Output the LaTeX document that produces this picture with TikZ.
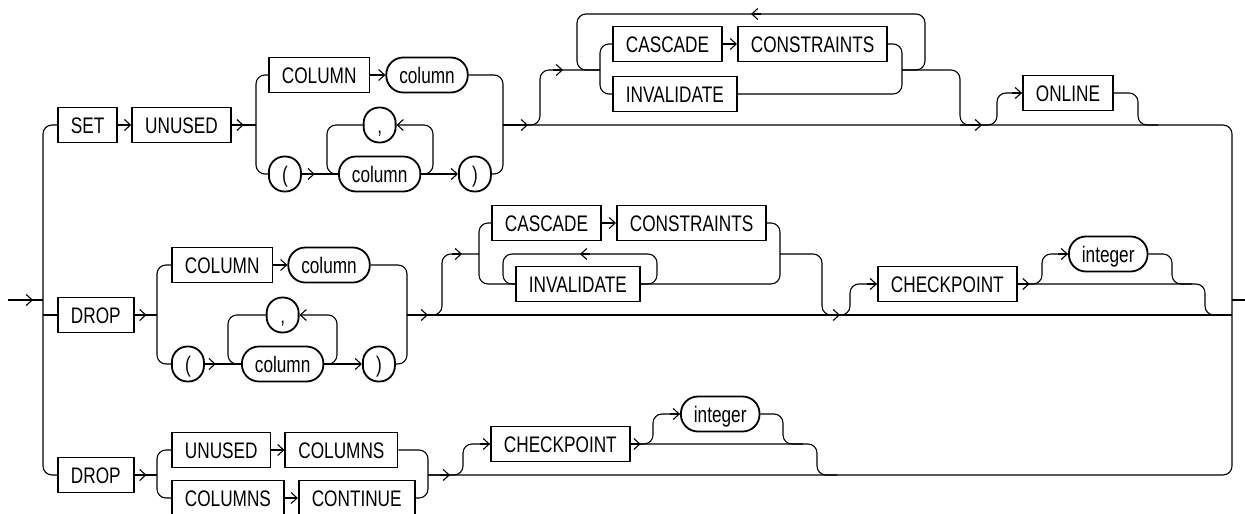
\documentclass[tikz,border=0pt]{standalone}
\usepackage{fontspec}
\setmainfont{Liberation Sans}[FakeStretch=0.765]
\usetikzlibrary{arrows.meta, positioning, calc}
\tikzset{
  rail/.style={line width=1.1pt,rounded corners=9pt},
  line/.style={rail,-{Straight Barb[length=6pt,width=11pt]}},
  kw/.style={rectangle,draw,line width=1.8pt,minimum height=35pt,inner xsep=13pt,inner ysep=0pt,text height=16pt,text depth=0pt,font=\fontsize{22.5}{26}\selectfont},
  var/.style={kw,rounded corners=17pt},
  sym/.style={kw,rounded corners=15.5pt,minimum width=32pt,inner xsep=0pt}
}
\begin{document}
\begin{tikzpicture}[x=1pt,y=-1pt,node distance=14pt]
\clip (0,0) rectangle (1245,514);
\coordinate (entry) at (8,300);
\coordinate (trunkL) at (43,300);
\coordinate (trunkR) at (1232,300);
\coordinate (exit) at (1245,300);

\node[kw,anchor=west] (set) at (57,125) {SET};
\node[kw,right=13pt of set] (unused) {UNUSED};
\node[kw,anchor=west] (colkw) at (268,75) {COLUMN};
\node[var,right=15pt of colkw] (colvar) {column};
\node[sym,anchor=west] (lpar) at (268,174) {(};
\node[var,anchor=west] (colvarb) at (338,174) {column};
\node[sym] (comma) at (colvarb |- set) {,};
\node[sym,anchor=west] (rpar) at (458,174) {)};
\node[kw,anchor=west] (casc) at (612,44) {CASCADE};
\node[kw,right=of casc] (cons) {CONSTRAINTS};
\node[kw,anchor=west] (inv) at (612,94) {INVALIDATE};
\node[kw,anchor=west] (online) at (1022,93) {ONLINE};
\coordinate (ja) at (256,125);
\coordinate (jb) at (503,125);
\coordinate (la) at (327,174);
\coordinate (lb) at (433,174);
\coordinate (jc) at (540,125);
\coordinate (jd) at (600,70);
\coordinate (je) at (902,70);
\coordinate (ll) at (577,14);
\coordinate (lr) at (925,14);
\coordinate (jf) at (960,125);
\coordinate (jg) at (997,125);
\coordinate (jh) at (1138,125);

\node[kw,anchor=west] (drop) at (57,315) {DROP};
\node[kw,anchor=west] (colkwb) at (171,265) {COLUMN};
\node[var,right=of colkwb] (colvarc) {column};
\node[sym,anchor=west] (lparb) at (171,364) {(};
\node[var,anchor=west] (colvard) at (241,364) {column};
\node[sym] (commab) at (colvard |- drop) {,};
\node[sym,anchor=west] (rparb) at (362,364) {)};
\node[kw,anchor=west] (cascb) at (491,223) {CASCADE};
\node[kw,right=of cascb] (consb) {CONSTRAINTS};
\node[kw,anchor=west] (invb) at (515,284) {INVALIDATE};
\node[kw,anchor=west] (ckpt) at (877,284) {CHECKPOINT};
\node[var,anchor=west] (intg) at (1068,254) {integer};
\coordinate (jk) at (157,315);
\coordinate (jl) at (407,315);
\coordinate (lc) at (228,364);
\coordinate (ld) at (337,364);
\coordinate (jm) at (442,315);
\coordinate (jn) at (479,254);
\coordinate (lle) at (503,254);
\coordinate (lre) at (657,254);
\coordinate (jo) at (780,254);
\coordinate (jp) at (822,315);
\coordinate (jq) at (850,315);
\coordinate (jr) at (1042,284);
\coordinate (js) at (1172,284);
\coordinate (jt) at (1205,315);

\node[kw,anchor=west] (dropb) at (57,475) {DROP};
\node[kw,anchor=west] (unusedb) at (171,450) {UNUSED};
\node[kw,right=13pt of unusedb] (colsa) {COLUMNS};
\node[kw,anchor=west] (colsb) at (171,498) {COLUMNS};
\node[kw,right=13pt of colsb] (cont) {CONTINUE};
\node[kw,anchor=west] (ckptb) at (490,444) {CHECKPOINT};
\node[var,anchor=west] (intgb) at (680,414) {integer};
\coordinate (ju) at (157,475);
\coordinate (jv) at (428,475);
\coordinate (jw) at (463,475);
\coordinate (jx) at (653,444);
\coordinate (jy) at (783,444);
\coordinate (jz) at (817,475);

\draw[rail] (entry) -- (trunkL);
\draw[line] (entry) -- ++(25,0);
\draw[rail] (set) -| (trunkL) |- (dropb);
\draw[rail] (trunkL |- drop) -- (drop);
\draw[rail] ($(jb)+(9,0)$) -| (trunkR) |- (jv);
\draw[rail] (trunkR) -- (exit);

\draw[line] (set) -- (unused);
\draw[rail] (unused) -- (ja);
\draw[line] (unused.east) -- ++(12,0);
\draw[rail] (colkw.west) -| (ja) |- (lpar.west);
\draw[line] (colkw) -- (colvar);
\draw[rail] (colvar.east) -| (jb) |- (rpar.east);
\draw[rail] (lpar) -- (colvarb);
\draw[line] (lpar.east) -- ++(13,0);
\draw[line] (colvarb.east) -- (lb) |- (comma.east);
\draw[rail] (comma.west) -| (la) -- (colvarb.west);
\draw[line] (colvarb) -- (rpar);
\draw[line] (jb) -- ++(25,0);
\draw[rail] (jb) -- (jc) |- (jd);
\draw[line] ($(jc |- jd)+(13,0)$) -- ++(10,0);
\draw[rail] (casc.west) -| (jd) |- (inv.west);
\draw[line] (casc) -- (cons);
\draw[rail] (cons.east) -| (je) |- (inv.east);
\draw[rail] (je) -| (lr) -- (ll) |- (jd);
\draw[line] ($(ll)!0.5!(lr)+(10,0)$) -- ($(ll)!0.5!(lr)$);
\draw[rail] (je) -| (jf) -- ++(20,0);
\draw[line] ($(jf)+(12,0)$) -- ++(10,0);
\draw[rail] (jf) -- (jg) |- (online.west);
\draw[line] ($(online.west)+(-10,0)$) -- (online.west);
\draw[rail] (online.east) -| (jh) -- ++(20,0);

\draw[rail] (drop) -- (jk);
\draw[line] (drop.east) -- ++(12,0);
\draw[rail] (colkwb.west) -| (jk) |- (lparb.west);
\draw[line] (colkwb) -- (colvarc);
\draw[rail] (colvarc.east) -| (jl) |- (rparb.east);
\draw[rail] (lparb) -- (colvard);
\draw[line] (lparb.east) -- ++(11,0);
\draw[line] (colvard.east) -- (ld) |- (commab.east);
\draw[rail] (commab.west) -| (lc) -- (colvard.west);
\draw[line] (colvard) -- (rparb);
\draw[rail] (jl) -- (trunkR |- jl);
\draw[line] ($(jl)+(11,0)$) -- ++(10,0);
\draw[rail] (jl) -- (jm) |- (jn);
\draw[line] ($(jm |- jn)+(10,0)$) -- ++(10,0);
\draw[rail] (cascb.west) -| (jn) |- (invb.west);
\draw[line] (cascb) -- (consb);
\draw[rail] (consb.east) -| (jo) |- (invb.east);
\draw[rail] (invb.east) -| (lre) -- (lle) |- (invb.west);
\draw[line] ($(lle)!0.5!(lre)+(10,0)$) -- ($(lle)!0.5!(lre)$);
\draw[rail] (jo) -| (jp) -- ++(20,0);
\draw[line] ($(jp)+(8,0)$) -- ++(10,0);
\draw[rail] (jp) -- (jq) |- (ckpt.west);
\draw[line] ($(ckpt.west)+(-10,0)$) -- (ckpt.west);
\draw[line] (ckpt.east) -- ++(12,0);
\draw[rail] (ckpt.east) -- (jr) |- (intg.west);
\draw[line] ($(intg.west)+(-10,0)$) -- (intg.west);
\draw[rail] (intg.east) -| (js) -- ++(20,0);
\draw[rail] (ckpt.east) -| (jt) -- (trunkR |- jt);

\draw[rail] (dropb) -- (ju);
\draw[line] (dropb.east) -- ++(12,0);
\draw[rail] (unusedb.west) -| (ju) |- (colsb.west);
\draw[line] (unusedb) -- (colsa);
\draw[line] (colsb) -- (cont);
\draw[rail] (colsa.east) -| (jv) |- (cont.east);
\draw[line] ($(jv)+(12,0)$) -- ++(10,0);
\draw[rail] (jv) -- (jw) |- (ckptb.west);
\draw[line] ($(ckptb.west)+(-10,0)$) -- (ckptb.west);
\draw[line] (ckptb.east) -- ++(10,0);
\draw[rail] (ckptb.east) -- (jx) |- (intgb.west);
\draw[line] ($(intgb.west)+(-10,0)$) -- (intgb.west);
\draw[rail] (intgb.east) -| (jy) -- ++(20,0);
\draw[rail] (ckptb.east) -| (jz) -- ++(20,0);
\end{tikzpicture}
\end{document}
